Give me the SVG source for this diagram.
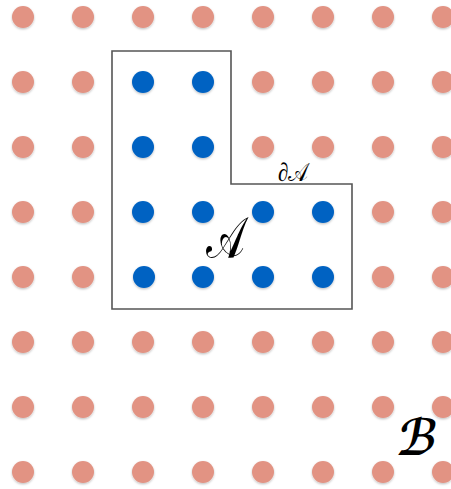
<svg xmlns="http://www.w3.org/2000/svg" width="451" height="489" viewBox="0 0 451 489">
<defs>
<style>
.b{fill:#E29383;filter:url(#sh)}
.a{fill:#0062C2;filter:url(#sh)}
.box{fill:none;stroke:#555;stroke-width:1.6}
.m{font-family:"DejaVu Serif","Liberation Serif",serif;fill:#000}
</style>
<filter id="sh" x="-50%" y="-50%" width="200%" height="200%">
<feDropShadow dx="0" dy="1.2" stdDeviation="1" flood-color="#000" flood-opacity="0.25"/>
</filter>
</defs>
<g id="lattice-B">
<circle class="b" cx="23" cy="17" r="11"/><circle class="b" cx="83" cy="17" r="11"/><circle class="b" cx="143" cy="17" r="11"/><circle class="b" cx="203" cy="17" r="11"/><circle class="b" cx="263" cy="17" r="11"/><circle class="b" cx="323" cy="17" r="11"/><circle class="b" cx="383" cy="17" r="11"/><circle class="b" cx="443" cy="17" r="11"/>
<circle class="b" cx="23" cy="82" r="11"/><circle class="b" cx="83" cy="82" r="11"/><circle class="b" cx="263" cy="82" r="11"/><circle class="b" cx="323" cy="82" r="11"/><circle class="b" cx="383" cy="82" r="11"/><circle class="b" cx="443" cy="82" r="11"/>
<circle class="b" cx="23" cy="147" r="11"/><circle class="b" cx="83" cy="147" r="11"/><circle class="b" cx="263" cy="147" r="11"/><circle class="b" cx="323" cy="147" r="11"/><circle class="b" cx="383" cy="147" r="11"/><circle class="b" cx="443" cy="147" r="11"/>
<circle class="b" cx="23" cy="212" r="11"/><circle class="b" cx="83" cy="212" r="11"/><circle class="b" cx="383" cy="212" r="11"/><circle class="b" cx="443" cy="212" r="11"/>
<circle class="b" cx="23" cy="277" r="11"/><circle class="b" cx="83" cy="277" r="11"/><circle class="b" cx="383" cy="277" r="11"/><circle class="b" cx="443" cy="277" r="11"/>
<circle class="b" cx="23" cy="342" r="11"/><circle class="b" cx="83" cy="342" r="11"/><circle class="b" cx="143" cy="342" r="11"/><circle class="b" cx="203" cy="342" r="11"/><circle class="b" cx="263" cy="342" r="11"/><circle class="b" cx="323" cy="342" r="11"/><circle class="b" cx="383" cy="342" r="11"/><circle class="b" cx="443" cy="342" r="11"/>
<circle class="b" cx="23" cy="407" r="11"/><circle class="b" cx="83" cy="407" r="11"/><circle class="b" cx="143" cy="407" r="11"/><circle class="b" cx="203" cy="407" r="11"/><circle class="b" cx="263" cy="407" r="11"/><circle class="b" cx="323" cy="407" r="11"/><circle class="b" cx="383" cy="407" r="11"/><circle class="b" cx="443" cy="407" r="11"/>
<circle class="b" cx="23" cy="472" r="11"/><circle class="b" cx="83" cy="472" r="11"/><circle class="b" cx="143" cy="472" r="11"/><circle class="b" cx="203" cy="472" r="11"/><circle class="b" cx="263" cy="472" r="11"/><circle class="b" cx="323" cy="472" r="11"/><circle class="b" cx="383" cy="472" r="11"/><circle class="b" cx="443" cy="472" r="11"/>
</g>
<g id="region-A">
<path class="box" d="M112,51 H231 V184 H352 V309 H112 Z"/>
<circle class="a" cx="143" cy="82" r="11"/><circle class="a" cx="203" cy="82" r="11"/>
<circle class="a" cx="143" cy="147" r="11"/><circle class="a" cx="203" cy="147" r="11"/>
<circle class="a" cx="143" cy="212" r="11"/><circle class="a" cx="203" cy="212" r="11"/><circle class="a" cx="263" cy="212" r="11"/><circle class="a" cx="323" cy="212" r="11"/>
<circle class="a" cx="144" cy="277" r="11"/><circle class="a" cx="203" cy="277" r="11"/><circle class="a" cx="263" cy="277" r="11"/><circle class="a" cx="323" cy="277" r="11"/>
</g>
<g id="labels">
<text class="m" font-size="20" text-anchor="middle" transform="translate(293.5,181) scale(1.05,1.3)"><tspan font-family="Liberation Serif" font-style="italic">∂</tspan>𝒜</text>
<text class="m" font-size="48" text-anchor="middle" transform="translate(225,258) scale(0.85,1.2)">𝒜</text>
<text font-family="DejaVu Sans" font-weight="bold" font-size="50" text-anchor="middle" transform="translate(415,455) scale(0.85,1) skewX(-12)">ℬ</text>
</g>
</svg>
